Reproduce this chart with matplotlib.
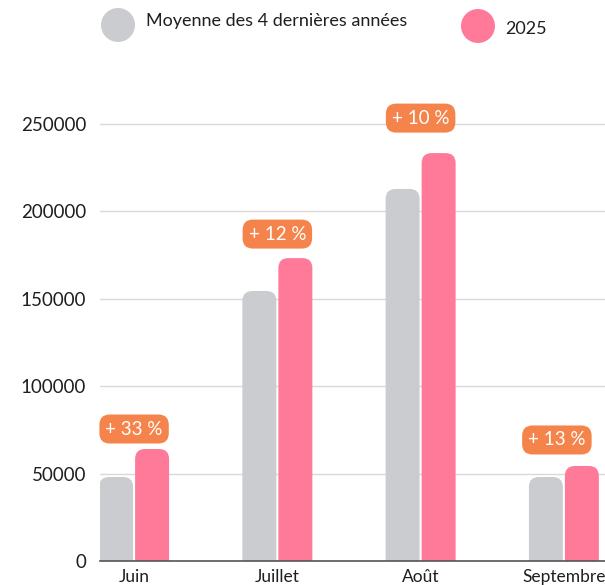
import matplotlib
matplotlib.use('Agg')
import matplotlib.pyplot as plt
import numpy as np
from matplotlib.patches import FancyBboxPatch, Circle

plt.rcParams['font.family'] = ['Lato', 'DejaVu Sans']

# --------------------------
# DONNEES
# --------------------------
mois = ['Juin', 'Juillet', 'Août', 'Septembre']
moyenne = [48000, 154300, 212600, 48000]
annee_2025 = [64000, 173100, 233100, 54300]
hausses = ['+ 33 %', '+ 12 %', '+ 10 %', '+ 13 %']
yticks = [0, 50000, 100000, 150000, 200000, 250000]
series = ['Moyenne des 4 dernières années', '2025']

c_gris = '#CBCCCF'
c_rose = '#FF7A98'
c_orange = '#F5844C'
c_texte = '#1f1f1f'

W, H = 605, 585
fig = plt.figure(figsize=(W / 100, H / 100), dpi=100)

# axe principal en position fixe (pixels)
left, right, bottom, top = 100, 605, 561, 95
ax = fig.add_axes([left / W, (H - bottom) / H, (right - left) / W, (bottom - top) / H])
ymax = 266300
ax.set_xlim(-0.238, 3.287)
ax.set_ylim(0, ymax)

# echelle pixels -> unites de donnees
px_x = (3.287 + 0.238) / (right - left)
px_y = ymax / (bottom - top)

largeur = 34 * px_x
ecart = 1 * px_x
rayon = 10

x = np.arange(len(mois))


def barre(x0, h, couleur):
    # boite arrondie qui descend sous 0 : le bas est coupe par l'axe
    p = FancyBboxPatch((x0, -rayon * 2 * px_y), largeur, h + rayon * 2 * px_y,
                       boxstyle=f'round,pad=0,rounding_size={rayon * px_x}',
                       mutation_aspect=px_y / px_x,
                       facecolor=couleur, edgecolor='none', zorder=3)
    ax.add_patch(p)


for i in x:
    barre(i - ecart - largeur, moyenne[i], c_gris)
    barre(i + ecart, annee_2025[i], c_rose)

# etiquettes de hausse (decalages en pixels)
decal_x = [0, 0, 0, -7]
decal_y = [20, 24, 35, 26]
for i in x:
    ax.annotate(hausses[i], xy=(i, annee_2025[i]),
                xytext=(decal_x[i] * 0.72, decal_y[i] * 0.72), textcoords='offset points',
                ha='center', va='center', fontsize=13.5, color='white',
                bbox=dict(boxstyle='round,pad=0.32,rounding_size=0.55',
                          facecolor=c_orange, edgecolor='none'),
                zorder=5)

ax.set_yticks(yticks)
ax.set_yticklabels([str(v) for v in yticks])
ax.set_xticks(x)
ax.set_xticklabels(mois)
ax.tick_params(axis='y', length=0, pad=10, labelsize=13.5, labelcolor=c_texte)
ax.tick_params(axis='x', length=0, pad=6, labelsize=12.5, labelcolor=c_texte)
ax.grid(axis='y', color='#d9d9d9', linewidth=1)
ax.set_axisbelow(True)
for s in ['top', 'right', 'left']:
    ax.spines[s].set_visible(False)
ax.spines['bottom'].set_color('#555555')
ax.spines['bottom'].set_linewidth(1.2)
ax.spines['bottom'].set_zorder(4)

# legende en coordonnees pixels
lg = fig.add_axes([0, 0, 1, 1], zorder=-1)
lg.set_xlim(0, W)
lg.set_ylim(H, 0)
lg.axis('off')
lg.add_patch(Circle((118, 25), 17, facecolor=c_gris, edgecolor='none'))
lg.text(146, 21, series[0], fontsize=13, color=c_texte, va='center', ha='left')
lg.add_patch(Circle((478, 26), 17, facecolor=c_rose, edgecolor='none'))
lg.text(505, 29, series[1], fontsize=13, color=c_texte, va='center', ha='left')

fig.savefig('out.png', dpi=100)
